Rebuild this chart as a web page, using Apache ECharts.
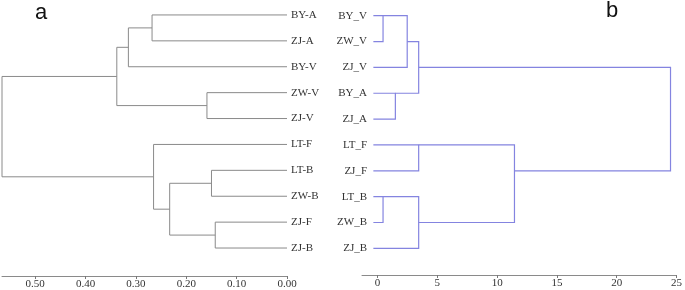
<!DOCTYPE html>
<html>
<head>
<meta charset="utf-8">
<script src="https://cdn.jsdelivr.net/npm/echarts@6/dist/echarts.min.js"></script>
<style>
  html, body { margin: 0; padding: 0; background: #fff; }
  #main { width: 685px; height: 290px; }
</style>
</head>
<body>
<div id="main"></div>
<script>
// 左图 a：叶子（自上而下）与合并过程 [子1, 子2, 距离]，子节点 >= 10 表示第 k-10 次合并
var leavesA = ['BY-A', 'ZJ-A', 'BY-V', 'ZW-V', 'ZJ-V', 'LT-F', 'LT-B', 'ZW-B', 'ZJ-F', 'ZJ-B'];
var mergesA = [
  [0, 1, 0.268], [10, 2, 0.315], [3, 4, 0.159], [11, 12, 0.338],
  [6, 7, 0.150], [8, 9, 0.1425], [14, 15, 0.233], [5, 16, 0.265], [13, 17, 0.566]
];
var ticksA = [0, 0.1, 0.2, 0.3, 0.4, 0.5];

// 右图 b：SPSS 重标距离
var leavesB = ['BY_V', 'ZW_V', 'ZJ_V', 'BY_A', 'ZJ_A', 'LT_F', 'ZJ_F', 'LT_B', 'ZW_B', 'ZJ_B'];
var mergesB = [
  [0, 1, 0.46], [10, 2, 2.48], [3, 4, 1.49], [11, 12, 3.44],
  [5, 6, 3.44], [7, 8, 0.46], [15, 9, 3.44], [14, 16, 11.45], [13, 17, 24.5]
];
var ticksB = [0, 5, 10, 15, 20, 25];
var leafStartB = -0.35;

// 生成树状图折线
var buildLines = function(n, merges, leafStart, floorRows) {
  var rows = [], heights = [];
  for (var i = 0; i < n; i++) { rows[i] = i; heights[i] = leafStart; }
  var out = [];
  merges.forEach(function(m, k) {
    var a = m[0], b = m[1], h = m[2];
    var mid = (rows[a] + rows[b]) / 2;
    rows[n + k] = floorRows ? Math.floor(mid) : mid;
    heights[n + k] = h;
    out.push({ coords: [[heights[a], rows[a]], [h, rows[a]], [h, rows[b]], [heights[b], rows[b]]] });
  });
  return out;
};

var linesA = buildLines(leavesA.length, mergesA, 0, false);
var linesB = buildLines(leavesB.length, mergesB, leafStartB, true);
var rowIdx = [0, 1, 2, 3, 4, 5, 6, 7, 8, 9];

var serif = 'Liberation Serif';
var myChart = echarts.init(document.getElementById('main'));

var option = {
  animation: false,
  title: [{
    text: 'a', left: 30, top: -3,
    textStyle: { fontSize: 22, fontWeight: 'normal', color: '#111', fontFamily: 'Liberation Sans' }
  }, {
    text: 'b', left: 601, top: -5,
    textStyle: { fontSize: 22, fontWeight: 'normal', color: '#111', fontFamily: 'Liberation Sans' }
  }],
  grid: [
    { left: 2, right: 398, top: 2, bottom: 14 },
    { left: 362, right: 5, top: 2, bottom: 15 }
  ],
  xAxis: [{
    gridIndex: 0, type: 'value', inverse: true, min: 0, max: 0.566,
    splitLine: { show: false },
    axisLine: { onZero: false, lineStyle: { color: '#8a8a8a' } },
    axisTick: { customValues: ticksA, length: 3, lineStyle: { color: '#777' } },
    axisLabel: {
      customValues: ticksA, margin: 3, fontSize: 11, fontFamily: serif, color: '#333',
      formatter: function(v) { return v.toFixed(2); }
    }
  }, {
    gridIndex: 1, type: 'value', min: -1.3, max: 25,
    splitLine: { show: false },
    axisLine: { onZero: false, lineStyle: { color: '#8a8a8a' } },
    axisTick: { customValues: ticksB, length: 3, lineStyle: { color: '#777' } },
    axisLabel: { customValues: ticksB, margin: 3, fontSize: 11, fontFamily: serif, color: '#333' }
  }],
  yAxis: [{
    gridIndex: 0, type: 'value', inverse: true, min: -0.5, max: 10.08, position: 'right',
    axisLine: { show: false, onZero: false }, axisTick: { show: false }, splitLine: { show: false },
    axisLabel: {
      customValues: rowIdx, margin: 4, fontSize: 11, fontFamily: serif, color: '#333',
      formatter: function(v) { return leavesA[v]; }
    }
  }, {
    gridIndex: 1, type: 'value', inverse: true, min: -0.53, max: 10.03, position: 'left',
    axisLine: { show: false, onZero: false }, axisTick: { show: false }, splitLine: { show: false },
    axisLabel: {
      customValues: rowIdx, margin: -5, fontSize: 11, fontFamily: serif, color: '#333',
      formatter: function(v) { return leavesB[v]; }
    }
  }],
  series: [{
    type: 'lines', coordinateSystem: 'cartesian2d', xAxisIndex: 0, yAxisIndex: 0,
    polyline: true, silent: true,
    lineStyle: { color: '#8a8a8a', width: 1, opacity: 1 },
    data: linesA
  }, {
    type: 'lines', coordinateSystem: 'cartesian2d', xAxisIndex: 1, yAxisIndex: 1,
    polyline: true, silent: true,
    lineStyle: { color: '#8484e0', width: 1.2, opacity: 1 },
    data: linesB
  }]
};
myChart.setOption(option);
</script>
</body>
</html>
